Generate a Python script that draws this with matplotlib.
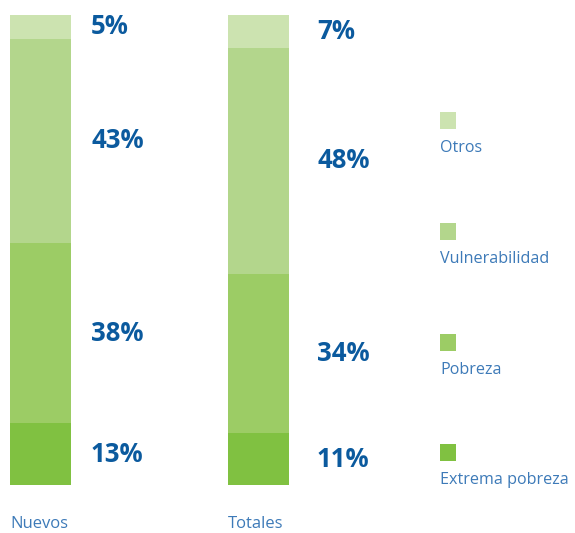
import matplotlib
matplotlib.use("Agg")
import matplotlib.pyplot as plt
from matplotlib.patches import Rectangle

plt.rcParams['font.family'] = ['Open Sans', 'DejaVu Sans']

# datos
grupos = ['Nuevos', 'Totales']
categorias = ['Extrema pobreza', 'Pobreza', 'Vulnerabilidad', 'Otros']
extrema = [13, 11]
pobreza = [38, 34]
vulnerabilidad = [43, 48]
otros = [5, 7]
colores = ['#80c141', '#9ccc65', '#b3d68c', '#cce3b0']

series = [extrema, pobreza, vulnerabilidad, otros]
totales = [sum(s[i] for s in series) for i in range(len(grupos))]

W, H = 575, 533
fig = plt.figure(figsize=(W / 100, H / 100), dpi=100)

# eje: 1 unidad x = 218 px, barras centradas en 0 y 1
px = 218.0
x0 = -40.5 / px
ax = fig.add_axes([0, 48 / H, 1, 470 / H])
ax.set_xlim(x0, x0 + W / px)
ax.set_ylim(0, 100)
ax.axis('off')

ancho = 61 / px
pos = [0, 1]
base = [0, 0]
azul = '#0b5a9e'
azul_claro = '#3d7ab8'
desp = [20 / px, 28 / px]  # separación entre barra y etiqueta

# cada barra se escala a 100 (la de Nuevos suma 99)
for vals, col in zip(series, colores):
    alto = [v * 100 / t for v, t in zip(vals, totales)]
    ax.bar(pos, alto, width=ancho, bottom=base, color=col, linewidth=0)
    for i, v in enumerate(vals):
        ax.text(pos[i] + ancho / 2 + desp[i], base[i] + alto[i] / 2, f'{v}%',
                ha='left', va='center', fontsize=18.5, fontweight='bold',
                color=azul)
    base = [b + a for b, a in zip(base, alto)]

# nombres de grupos
for i, g in enumerate(grupos):
    ax.text(pos[i] - ancho / 2, -8.3, g, ha='left', va='center',
            fontsize=12, color=azul_claro, clip_on=False)

# leyenda manual
ley_x = 440 / W
ley_y = [461, 351, 240, 129]  # parte baja de cada cuadro (px desde arriba)
for cat, col, yy in zip(categorias, colores, ley_y):
    fig.patches.append(Rectangle((ley_x, 1 - yy / H), 16 / W, 17 / H,
                                 transform=fig.transFigure, color=col,
                                 linewidth=0))
    fig.text(ley_x, 1 - (yy + 19) / H, cat, ha='left', va='center',
             fontsize=11.6, color=azul_claro)

fig.savefig('out.png', dpi=100)
